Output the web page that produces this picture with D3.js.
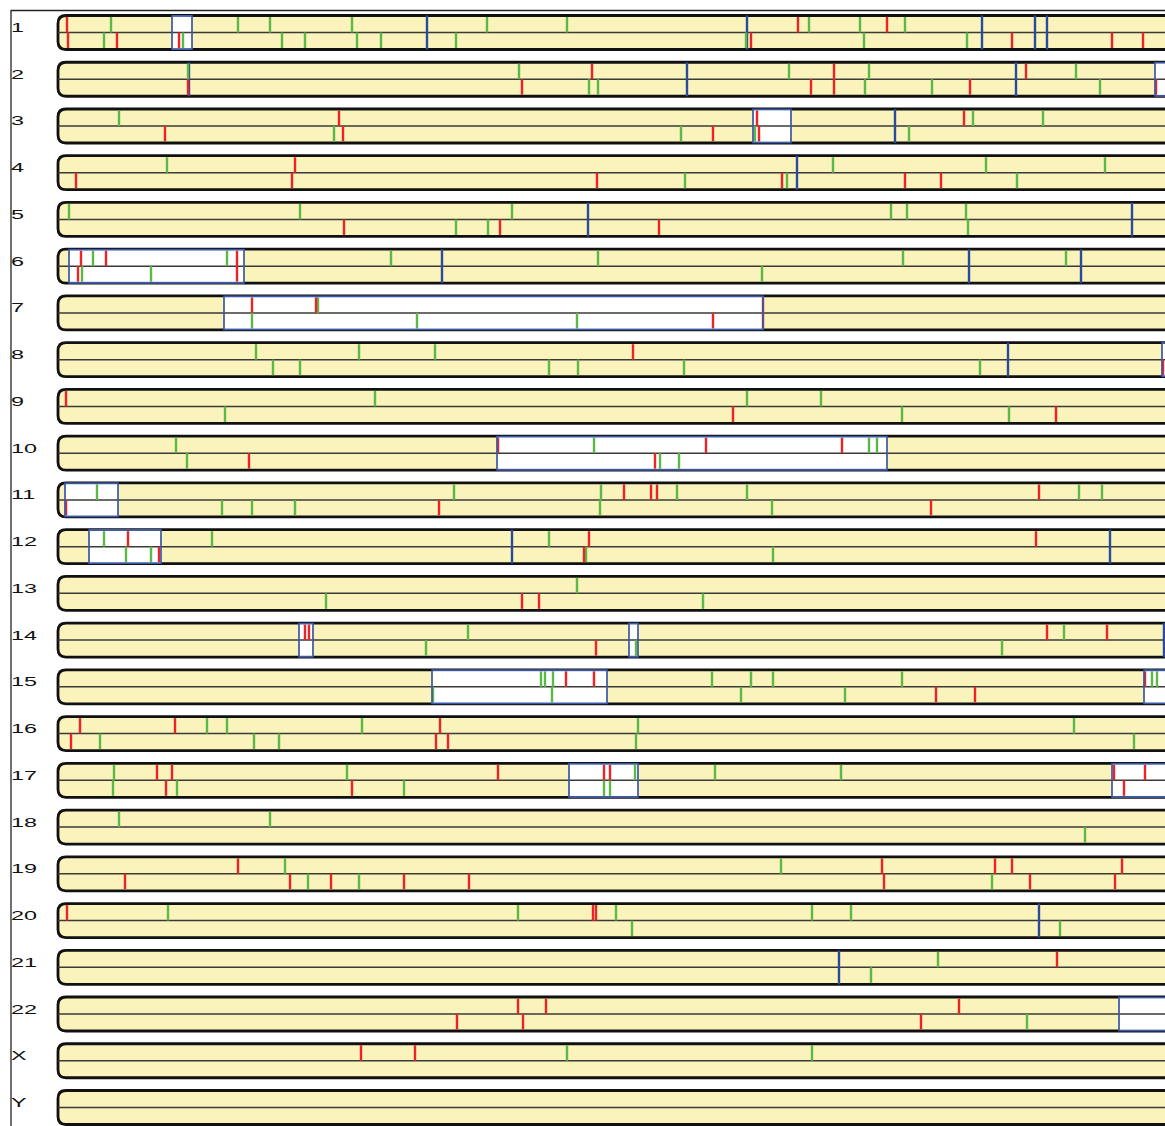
<!DOCTYPE html>
<html>
<head>
<meta charset="utf-8">
<script src="https://cdn.jsdelivr.net/npm/d3@7"></script>
<style>
  html, body { margin: 0; padding: 0; background: #fff; }
  svg { display: block; }
</style>
</head>
<body>
<svg id="chart" width="1165" height="1126"></svg>
<script>
// Chromosome ideogram tracks: upper/lower half ticks, full-height boundaries and highlighted regions.
const chromosomes = ["1","2","3","4","5","6","7","8","9","10","11","12","13","14","15","16","17","18","19","20","21","22","X","Y"];

// Highlighted regions [chromosome, start, end]
const regions = [
  ["1",114,134], ["2",1097,1130], ["3",695,733], ["6",11,186], ["7",166,705],
  ["8",1104,1130], ["10",439,829], ["11",7,60], ["12",31,103], ["14",241,255],
  ["14",571,580], ["15",374,549], ["15",1086,1130], ["17",511,580], ["17",1054,1130],
  ["22",1061,1130]
];

// Full-height boundaries [chromosome, position]
const boundaries = [
  ["1",369], ["1",689], ["1",924], ["1",977], ["1",989],
  ["2",131], ["2",629], ["2",958],
  ["3",837], ["4",739], ["5",530], ["5",1074],
  ["6",384], ["6",911], ["6",1023],
  ["8",950], ["12",454], ["12",1052], ["14",1106],
  ["20",981], ["21",781]
];

// Upper-track red ticks
const redUpper = [
  ["1",9],["1",740],["1",829],
  ["2",534],["2",776],["2",968],
  ["3",281],["3",699],["3",906],
  ["4",237],
  ["6",23],["6",48],["6",179],
  ["7",194],["7",258],["7",705],
  ["8",575], ["9",8],
  ["10",440],["10",648],["10",784],
  ["11",566],["11",593],["11",599],["11",981],
  ["12",70],["12",531],["12",978],
  ["14",247],["14",251],["14",989],["14",1049],
  ["15",508],["15",536],["15",1087],
  ["16",22],["16",117],["16",382],
  ["17",99],["17",114],["17",440],["17",546],["17",552],["17",1056],["17",1087],
  ["19",180],["19",824],["19",937],["19",954],["19",1064],
  ["20",9],["20",535],["20",538],
  ["21",999],
  ["22",460],["22",488],["22",901],
  ["X",303],["X",357]
];

// Lower-track red ticks
const redLower = [
  ["1",10],["1",59],["1",121],["1",693],["1",954],["1",1054],["1",1085],
  ["2",130],["2",464],["2",753],["2",776],["2",912],["2",1098],
  ["3",107],["3",285],["3",655],["3",701],
  ["4",18],["4",234],["4",539],["4",724],["4",847],["4",883],
  ["5",286],["5",442],["5",601],
  ["6",20],["6",179],
  ["7",655],["7",705],
  ["8",1105],
  ["9",675],["9",998],
  ["10",191],["10",597],
  ["11",8],["11",381],["11",873],
  ["12",101],["12",526],
  ["13",464],["13",481],
  ["14",538],
  ["15",878],["15",917],
  ["16",13],["16",378],["16",390],
  ["17",108],["17",294],["17",1066],
  ["19",67],["19",232],["19",273],["19",346],["19",411],["19",826],["19",972],["19",1057],
  ["22",399],["22",465],["22",863]
];

// Upper-track green ticks
const greenUpper = [
  ["1",53],["1",180],["1",212],["1",294],["1",429],["1",509],["1",751],["1",802],["1",847],
  ["2",130],["2",461],["2",731],["2",811],["2",1018],
  ["3",61],["3",915],["3",985],
  ["4",109],["4",775],["4",928],["4",1047],
  ["5",11],["5",242],["5",454],["5",833],["5",849],["5",908],
  ["6",35],["6",169],["6",333],["6",540],["6",845],["6",1008],
  ["7",260],
  ["8",198],["8",301],["8",377],
  ["9",317],["9",689],["9",763],
  ["10",118],["10",536],["10",811],["10",819],
  ["11",39],["11",396],["11",543],["11",619],["11",689],["11",1021],["11",1044],
  ["12",46],["12",154],["12",491],
  ["13",519],
  ["14",410],["14",1006],
  ["15",483],["15",487],["15",495],["15",654],["15",693],["15",715],["15",844],["15",1094],["15",1099],
  ["16",149],["16",169],["16",304],["16",580],["16",1016],
  ["17",56],["17",289],["17",577],["17",657],["17",783],
  ["18",61],["18",212],
  ["19",227],["19",723],
  ["20",110],["20",460],["20",558],["20",754],["20",793],
  ["21",880],
  ["X",509],["X",754]
];

// Lower-track green ticks
const greenLower = [
  ["1",46],["1",125],["1",224],["1",247],["1",299],["1",323],["1",398],["1",688],["1",806],["1",909],
  ["2",531],["2",540],["2",807],["2",874],["2",1042],
  ["3",276],["3",623],["3",697],["3",851],
  ["4",627],["4",729],["4",959],
  ["5",398],["5",430],["5",910],
  ["6",24],["6",93],["6",704],
  ["7",194],["7",359],["7",519],
  ["8",215],["8",242],["8",491],["8",520],["8",626],["8",922],
  ["9",167],["9",844],["9",951],
  ["10",129],["10",602],["10",621],
  ["11",164],["11",194],["11",237],["11",542],["11",714],
  ["12",68],["12",93],["12",528],["12",715],
  ["13",268],["13",645],
  ["14",368],["14",578],["14",944],
  ["15",375],["15",494],["15",683],["15",787],
  ["16",42],["16",196],["16",221],["16",578],["16",1076],
  ["17",55],["17",119],["17",346],["17",546],["17",552],
  ["18",1027],
  ["19",250],["19",301],["19",934],
  ["20",574],["20",1002],
  ["21",813],
  ["22",969]
];

const W = 1165, H = 1126;
const svg = d3.select("#chart");

const x = d3.scaleLinear().domain([0, 1110]).range([58, 1168]);
const rowTop = d3.scalePoint().domain(chromosomes).range([15.5, 1090.5]);
const barH = 34, half = barH / 2, r = 8;
const x0 = x(0), xEnd = W + 10;

const col = {
  fill: "#fbf3bc", red: "#ec2327", green: "#5cb946", blue: "#2a4a9c",
  boxStroke: "#3a58a6"
};

// frame
svg.append("line").attr("x1", 11).attr("x2", 11).attr("y1", 10).attr("y2", H)
  .attr("stroke", "#222").attr("stroke-width", 1.3);
svg.append("line").attr("x1", 11).attr("x2", W).attr("y1", 10.5).attr("y2", 10.5)
  .attr("stroke", "#222").attr("stroke-width", 1.3);

function outline(t) {
  const b = t + barH;
  return `M${xEnd},${t} H${x0 + r} Q${x0},${t} ${x0},${t + r} V${b - r} Q${x0},${b} ${x0 + r},${b} H${xEnd}`;
}

// bar background
const rows = svg.append("g").selectAll("g.row").data(chromosomes).join("g").attr("class", "row");
rows.append("path").attr("d", c => outline(rowTop(c)) + "Z").attr("fill", col.fill).attr("stroke", "none");

// regions fill
svg.append("g").selectAll("rect").data(regions).join("rect")
  .attr("x", d => x(d[1])).attr("width", d => x(d[2]) - x(d[1]))
  .attr("y", d => rowTop(d[0])).attr("height", barH)
  .attr("fill", "#fff");

// middle divider
svg.append("g").selectAll("line").data(chromosomes).join("line")
  .attr("x1", x0).attr("x2", xEnd)
  .attr("y1", c => rowTop(c) + half).attr("y2", c => rowTop(c) + half)
  .attr("stroke", "#3a3a36").attr("stroke-width", 1.5);

// boundaries
svg.append("g").selectAll("line").data(boundaries).join("line")
  .attr("x1", d => x(d[1])).attr("x2", d => x(d[1]))
  .attr("y1", d => rowTop(d[0])).attr("y2", d => rowTop(d[0]) + barH)
  .attr("stroke", col.blue).attr("stroke-width", 2.4);

function ticks(data, color, upper) {
  svg.append("g").selectAll("line").data(data).join("line")
    .attr("x1", d => x(d[1])).attr("x2", d => x(d[1]))
    .attr("y1", d => rowTop(d[0]) + (upper ? 1.5 : half))
    .attr("y2", d => rowTop(d[0]) + (upper ? half : barH - 1.5))
    .attr("stroke", color).attr("stroke-width", 2.4);
}
ticks(greenUpper, col.green, true);
ticks(greenLower, col.green, false);
ticks(redUpper, col.red, true);
ticks(redLower, col.red, false);

// region outlines
svg.append("g").selectAll("rect").data(regions).join("rect")
  .attr("x", d => x(d[1])).attr("width", d => x(d[2]) - x(d[1]))
  .attr("y", d => rowTop(d[0]) + 0.5).attr("height", barH - 1)
  .attr("fill", "none").attr("stroke", col.boxStroke).attr("stroke-width", 1.7);

// bar outline
rows.append("path").attr("d", c => outline(rowTop(c)))
  .attr("fill", "none").attr("stroke", "#111").attr("stroke-width", 2.8);

// labels
rows.append("text")
  .attr("transform", c => `translate(11,${rowTop(c) + half - 0.5}) scale(1.95,1)`)
  .attr("font-family", "Liberation Sans, Arial, sans-serif")
  .attr("font-size", 12)
  .attr("fill", "#111")
  .text(c => c);
</script>
</body>
</html>
